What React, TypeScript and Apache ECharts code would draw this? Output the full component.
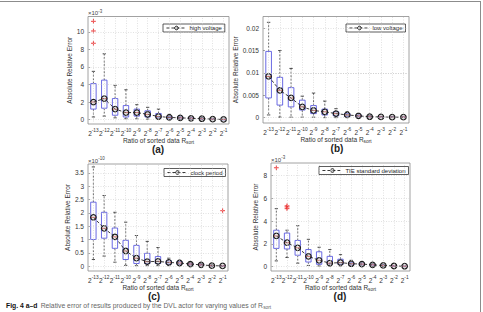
import React, { useEffect, useRef } from "react";
import * as echarts from "echarts";

// Categories: exponents of R_sort = 2^k
const exponents = ["-13", "-12", "-11", "-10", "-9", "-8", "-7", "-6", "-5", "-4", "-3", "-2", "-1"];

// (a) high voltage, values in units of 1e-3
const aLo = [0.3, 0.4, 0.2, 0.1, 0.1, 0.05, 0.05, 0.0, 0.0, 0.0, 0.0, 0.0, 0.0];
const aQ1 = [1.2, 1.3, 0.5, 0.3, 0.4, 0.3, 0.2, 0.1, 0.1, 0.08, 0.05, 0.03, 0.01];
const aMed = [2.0, 2.4, 1.2, 0.8, 0.8, 0.6, 0.35, 0.25, 0.2, 0.15, 0.1, 0.05, 0.02];
const aQ3 = [4.1, 4.5, 2.4, 1.6, 1.2, 1.0, 0.7, 0.35, 0.3, 0.2, 0.15, 0.08, 0.03];
const aHi = [5.5, 7.5, 3.9, 3.4, 1.7, 1.4, 1.2, 0.6, 0.45, 0.3, 0.25, 0.15, 0.05];
const aOut = [[0, 8.7], [0, 10.1], [0, 11.2]];
const aTicks = [0, 2, 4, 6, 8, 10];

// (b) low voltage
const bLo = [0.0006, 0.0001, 0.0001, 0.0001, 0.0001, 0, 0, 0, 0, 0, 0, 0, 0];
const bQ1 = [0.0044, 0.0028, 0.0024, 0.0017, 0.0009, 0.0006, 0.0004, 0.0003, 0.0002, 0.0001, 0.00005, 0.00005, 0.00003];
const bMed = [0.0092, 0.0061, 0.0044, 0.0024, 0.0016, 0.0013, 0.0009, 0.0006, 0.0004, 0.0002, 0.00015, 0.0001, 0.0001];
const bQ3 = [0.0148, 0.009, 0.0067, 0.0039, 0.0027, 0.0019, 0.0013, 0.0009, 0.0006, 0.0003, 0.0002, 0.00015, 0.00012];
const bHi = [0.0213, 0.015, 0.011, 0.0048, 0.0055, 0.0037, 0.002, 0.0013, 0.0009, 0.0005, 0.0003, 0.0002, 0.00015];
const bOut: number[][] = [];
const bTicks = [0, 0.005, 0.01, 0.015, 0.02];

// (c) clock period, values in units of 1e-10
const cLo = [0.25, 0.38, 0.15, 0.03, 0.02, 0.02, 0.02, 0.02, 0.02, 0.01, 0.01, 0, 0];
const cQ1 = [1.0, 1.05, 0.67, 0.25, 0.1, 0.1, 0.1, 0.08, 0.08, 0.05, 0.04, 0.01, 0.005];
const cMed = [1.83, 1.42, 1.1, 0.57, 0.3, 0.17, 0.18, 0.14, 0.12, 0.08, 0.05, 0.02, 0.01];
const cQ3 = [2.4, 2.02, 1.43, 0.97, 0.78, 0.48, 0.36, 0.2, 0.17, 0.1, 0.07, 0.03, 0.02];
const cHi = [3.72, 2.65, 2.02, 1.65, 1.15, 0.93, 0.7, 0.3, 0.22, 0.14, 0.1, 0.05, 0.03];
const cOut = [[12, 2.08]];
const cTicks = [0, 0.5, 1, 1.5, 2, 2.5, 3, 3.5];

// (d) TIE standard deviation, values in units of 1e-3
const dLo = [0.5, 0.8, 0.3, 0.1, 0.05, 0.05, 0.05, 0.02, 0.02, 0.02, 0.01, 0.01, 0];
const dQ1 = [1.6, 1.55, 1.0, 0.4, 0.2, 0.25, 0.2, 0.15, 0.15, 0.1, 0.08, 0.03, 0.02];
const dMed = [2.7, 2.1, 1.65, 0.9, 0.55, 0.3, 0.35, 0.25, 0.22, 0.15, 0.1, 0.05, 0.03];
const dQ3 = [3.2, 2.95, 2.3, 1.5, 1.3, 0.9, 0.65, 0.35, 0.3, 0.2, 0.13, 0.07, 0.04];
const dHi = [5.1, 3.2, 3.6, 2.4, 1.7, 1.5, 1.05, 0.55, 0.4, 0.3, 0.2, 0.1, 0.06];
const dOut = [[0, 8.7], [1, 5.1], [1, 5.25], [1, 5.35]];
const dTicks = [0, 2, 4, 6, 8];

const seriesNames = ["high voltage", "low voltage", "clock period", "TIE standard deviation"];
const panelLetters = ["(a)", "(b)", "(c)", "(d)"];
const exponentLabels = ["-3", "", "-10", "-3"];

const FONT = "Liberation Sans, Arial, Helvetica, sans-serif";

const panels = [
  { lo: aLo, q1: aQ1, med: aMed, q3: aQ3, hi: aHi, out: aOut, ticks: aTicks, min: -0.5, max: 11.75,
    grid: { left: 88, top: 16.5, width: 141, height: 107.5 }, nameGap: 13, legend: { left: 163, top: 24 }, letter: { x: 158, y: 149 } },
  { lo: bLo, q1: bQ1, med: bMed, q3: bQ3, hi: bHi, out: bOut, ticks: bTicks, min: -0.0012, max: 0.0226,
    grid: { left: 263, top: 16.5, width: 146, height: 106.5 }, nameGap: 18, legend: { left: 346, top: 24 }, letter: { x: 337, y: 148 } },
  { lo: cLo, q1: cQ1, med: cMed, q3: cQ3, hi: cHi, out: cOut, ticks: cTicks, min: -0.18, max: 3.83,
    grid: { left: 88, top: 164, width: 140, height: 107 }, nameGap: 15, legend: { left: 164, top: 168.5 }, letter: { x: 154, y: 296 } },
  { lo: dLo, q1: dQ1, med: dMed, q3: dQ3, hi: dHi, out: dOut, ticks: dTicks, min: -0.39, max: 9.12,
    grid: { left: 271, top: 163, width: 139, height: 108 }, nameGap: 10, legend: { left: 319, top: 166.5 }, letter: { x: 340, y: 296 } },
];

function buildOption() {
  const grid: any[] = [];
  const xAxis: any[] = [];
  const yAxis: any[] = [];
  const series: any[] = [];
  const legend: any[] = [];
  const graphic: any[] = [];

  panels.forEach((p, k) => {
    grid.push({ ...p.grid, show: true, borderColor: "#8a8a8a", borderWidth: 0.8, backgroundColor: "#fff", containLabel: false });
    xAxis.push({
      gridIndex: k,
      type: "category",
      data: exponents,
      boundaryGap: true,
      axisLine: { show: false },
      axisTick: { show: false },
      splitLine: { show: false },
      axisLabel: {
        interval: 0,
        margin: 4,
        formatter: (v: string) => `{b|2}{s|${v}}`,
        rich: {
          b: { fontSize: 6.5, color: "#333", fontFamily: FONT },
          s: { fontSize: 4.8, color: "#333", fontFamily: FONT, padding: [0, 0, 5, 0] },
        },
      },
      name: "{n|Ratio of sorted data R}{u|sort}",
      nameLocation: "middle",
      nameGap: 8,
      nameTextStyle: {
        rich: {
          n: { fontSize: 6.5, color: "#333", fontFamily: FONT },
          u: { fontSize: 4.8, color: "#333", fontFamily: FONT, padding: [4, 0, 0, 0] },
        },
      },
    });
    yAxis.push({
      gridIndex: k,
      type: "value",
      min: p.min,
      max: p.max,
      axisLine: { show: false },
      splitLine: { show: false },
      axisTick: { show: true, inside: true, length: 2, customValues: p.ticks, lineStyle: { color: "#666", width: 0.6 } },
      axisLabel: { customValues: p.ticks, fontSize: 6.5, color: "#333", fontFamily: FONT, margin: 4 },
      name: "Absolute Relative Error",
      nameLocation: "middle",
      nameGap: p.nameGap,
      nameTextStyle: { fontSize: 6.5, color: "#333", fontFamily: FONT },
    });

    // grid lines via mark lines
    const gridLines: any[] = [];
    p.ticks.forEach((t) => gridLines.push({ yAxis: t }));
    exponents.forEach((e) => gridLines.push({ xAxis: e }));
    series.push({
      type: "line",
      xAxisIndex: k,
      yAxisIndex: k,
      data: p.med,
      showSymbol: false,
      lineStyle: { opacity: 0 },
      silent: true,
      z: 1,
      markLine: {
        silent: true,
        symbol: ["none", "none"],
        label: { show: false },
        lineStyle: { color: "#cfcfcf", type: [1, 1.5], width: 0.6 },
        emphasis: { disabled: true },
        data: gridLines,
      },
    });

    // boxes
    const boxData = p.med.map((_, i) => [i, p.lo[i], p.q1[i], p.med[i], p.q3[i], p.hi[i]]);
    series.push({
      type: "custom",
      xAxisIndex: k,
      yAxisIndex: k,
      z: 2,
      silent: true,
      data: boxData,
      encode: { x: 0, y: [1, 2, 3, 4, 5] },
      renderItem: (params: any, api: any) => {
        const i = api.value(0);
        const lo = api.coord([i, api.value(1)]);
        const q1 = api.coord([i, api.value(2)]);
        const md = api.coord([i, api.value(3)]);
        const q3 = api.coord([i, api.value(4)]);
        const hi = api.coord([i, api.value(5)]);
        const band = api.size([1, 0])[0];
        const bw = band * 0.5;
        const cw = band * 0.3;
        const x = lo[0];
        const wStyle = { stroke: "#444", lineWidth: 0.8, lineDash: [2, 1.5], fill: null };
        const cStyle = { stroke: "#222", lineWidth: 0.8, fill: null };
        return {
          type: "group",
          children: [
            { type: "line", shape: { x1: x, y1: q3[1], x2: x, y2: hi[1] }, style: wStyle },
            { type: "line", shape: { x1: x, y1: q1[1], x2: x, y2: lo[1] }, style: wStyle },
            { type: "line", shape: { x1: x - cw / 2, y1: hi[1], x2: x + cw / 2, y2: hi[1] }, style: cStyle },
            { type: "line", shape: { x1: x - cw / 2, y1: lo[1], x2: x + cw / 2, y2: lo[1] }, style: cStyle },
            { type: "rect", shape: { x: x - bw / 2, y: q3[1], width: bw, height: Math.max(q1[1] - q3[1], 0.5) }, style: { fill: null, stroke: "#5a5ae0", lineWidth: 0.9 } },
            { type: "line", shape: { x1: x - bw / 2, y1: md[1], x2: x + bw / 2, y2: md[1] }, style: { stroke: "#e03030", lineWidth: 0.9 } },
          ],
        };
      },
    });

    // outliers
    if (p.out.length) {
      series.push({
        type: "custom",
        xAxisIndex: k,
        yAxisIndex: k,
        z: 3,
        silent: true,
        data: p.out,
        encode: { x: 0, y: 1 },
        renderItem: (params: any, api: any) => {
          const c = api.coord([api.value(0), api.value(1)]);
          const s = 2.4;
          const st = { stroke: "#ee2a2a", lineWidth: 0.9 };
          return {
            type: "group",
            children: [
              { type: "line", shape: { x1: c[0] - s, y1: c[1], x2: c[0] + s, y2: c[1] }, style: st },
              { type: "line", shape: { x1: c[0], y1: c[1] - s, x2: c[0], y2: c[1] + s }, style: st },
            ],
          };
        },
      });
    }

    // medians line
    series.push({
      name: seriesNames[k],
      type: "line",
      xAxisIndex: k,
      yAxisIndex: k,
      z: 4,
      data: p.med,
      symbol: "circle",
      symbolSize: 5.5,
      showSymbol: true,
      itemStyle: { color: "rgba(200,200,200,0.35)", borderColor: "#1a1a1a", borderWidth: 1.2 },
      lineStyle: { color: "#222", width: 0.9, type: [3, 2] },
    });

    legend.push({
      data: [seriesNames[k]],
      left: p.legend.left,
      top: p.legend.top,
      orient: "horizontal",
      backgroundColor: "#fff",
      borderColor: "#333",
      borderWidth: 0.8,
      borderRadius: 0,
      padding: [1, 3, 1, 3],
      itemWidth: 20,
      itemHeight: 4.5,
      itemGap: 2,
      selectedMode: false,
      lineStyle: { width: 0.9, type: [3, 2], color: "#222" },
      itemStyle: { borderWidth: 1, borderColor: "#1a1a1a", color: "rgba(200,200,200,0.35)" },
      textStyle: { fontSize: 6, color: "#222", fontFamily: FONT, padding: [0, 0, 0, -2] },
    });

    if (exponentLabels[k]) {
      graphic.push({
        type: "text",
        left: p.grid.left,
        top: p.grid.top - 8,
        style: {
          text: `{m|×10}{e|${exponentLabels[k]}}`,
          rich: {
            m: { fontSize: 6, fill: "#444", fontFamily: FONT },
            e: { fontSize: 4.5, fill: "#444", fontFamily: FONT, padding: [0, 0, 4, 0] },
          },
        },
      });
    }

    graphic.push({
      type: "text",
      x: p.letter.x,
      y: p.letter.y,
      style: {
        text: panelLetters[k],
        fontSize: 10,
        fontWeight: "bold",
        fontFamily: FONT,
        fill: "#222",
        align: "center",
        verticalAlign: "middle",
      },
    });
  });

  // outer frame lines
  graphic.push({ type: "line", shape: { x1: 0, y1: 1.5, x2: 481, y2: 1.5 }, style: { stroke: "#8c8c8c", lineWidth: 1 } });
  graphic.push({ type: "line", shape: { x1: 480.5, y1: 1.5, x2: 480.5, y2: 312 }, style: { stroke: "#8c8c8c", lineWidth: 1 } });

  // caption
  graphic.push({
    type: "text",
    x: 6,
    y: 305,
    style: {
      text: "{b|Fig. 4 a–d} {n|Relative error of results produced by the DVL actor for varying values of R}{u|sort}",
      verticalAlign: "middle",
      rich: {
        b: { fontSize: 6.8, fontWeight: "bold", fill: "#111", fontFamily: FONT },
        n: { fontSize: 6.8, fill: "#666", fontFamily: FONT },
        u: { fontSize: 4.8, fill: "#666", fontFamily: FONT, padding: [4, 0, 0, 0] },
      },
    },
  });

  return {
    animation: false,
    backgroundColor: "#fff",
    grid,
    xAxis,
    yAxis,
    legend,
    series,
    graphic,
  };
}

export default function App() {
  const ref = useRef<HTMLDivElement>(null);
  useEffect(() => {
    if (!ref.current) return;
    const chart = echarts.init(ref.current, null, { renderer: "svg" });
    chart.setOption(buildOption() as any);
    return () => chart.dispose();
  }, []);
  return <div ref={ref} style={{ position: "absolute", left: 0, top: 0, width: 483, height: 312 }} />;
}
